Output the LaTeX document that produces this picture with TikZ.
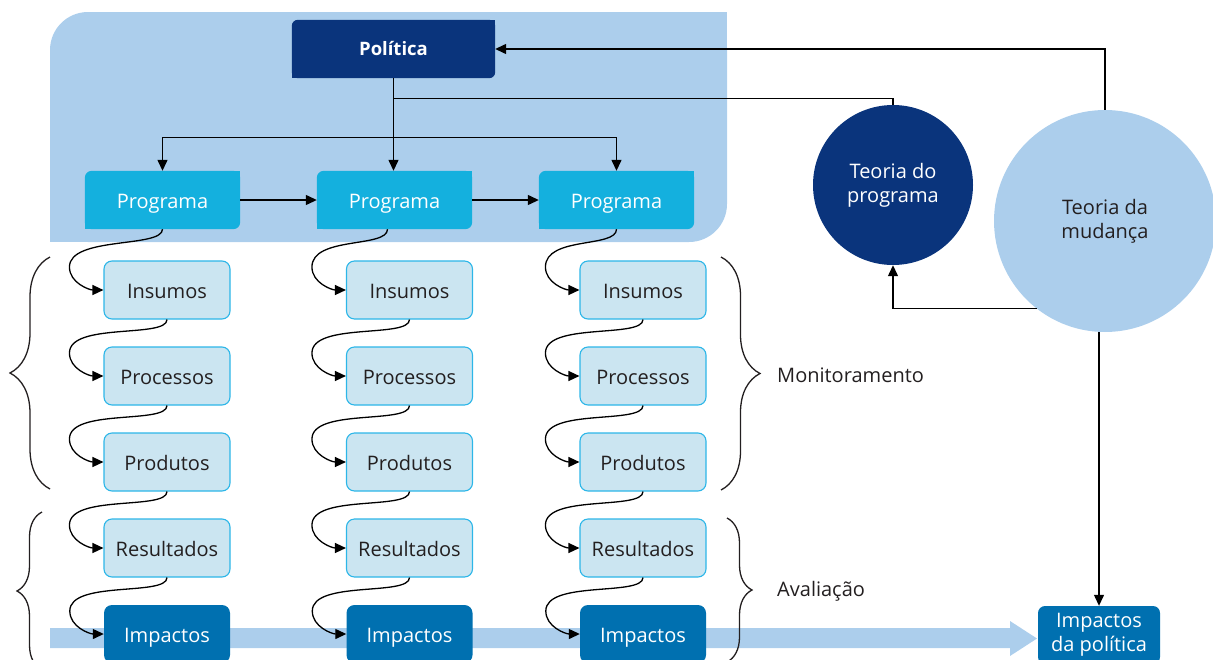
\documentclass[tikz,border=0pt]{standalone}
\usepackage{fontspec}
\setmainfont{Open Sans}
\usetikzlibrary{arrows.meta,calc,decorations.pathreplacing}
\definecolor{bgblue}{HTML}{ACCEEC}
\definecolor{navy}{HTML}{0A347C}
\definecolor{progcyan}{HTML}{14B0DE}
\definecolor{lightbox}{HTML}{CBE5F1}
\definecolor{lightborder}{HTML}{2CB6E8}
\definecolor{impblue}{HTML}{0070B0}
\definecolor{textdark}{HTML}{231F20}
\pgfdeclarelayer{bgA}
\pgfdeclarelayer{bgB}
\pgfsetlayers{bgA,bgB,main}
% fill a node area with rounded top-left and bottom-right corners
\newcommand\twocornerfill[3]{%
  \fill[#1,rounded corners=#3pt] (#2.north west) rectangle (#2.south east);
  \fill[#1] (#2.north east) rectangle ($(#2.north east)+(-#3,#3)$);
  \fill[#1] (#2.south west) rectangle ($(#2.south west)+(#3,-#3)$);
}
\newcommand\curvarrow[2]{%
  \draw[conn] (#1) .. controls +(0,19) and +(0,-31) .. ($(#2.west)+(-34,-23)$)
    .. controls +(0,16) and +(-14,0) .. (#2.west);
}
\tikzset{
  every node/.style={font=\fontsize{20}{24}\selectfont},
  conn/.style={draw=black, line width=1.3pt, -{Triangle[length=11pt,width=10pt]}},
  plainline/.style={draw=black, line width=1.3pt},
  onetext/.style={text height=16pt, text depth=0pt},
  polbox/.style={minimum width=203pt, minimum height=58pt, inner sep=0pt, text=white,
     font=\fontsize{18.5}{24}\selectfont\bfseries, text height=12pt, text depth=0pt},
  progbox/.style={minimum width=155pt, minimum height=58pt, inner sep=0pt, text=white, onetext},
  stagebox/.style={minimum width=126pt, minimum height=58pt, inner sep=0pt, rounded corners=8pt,
     fill=lightbox, draw=lightborder, line width=1.1pt, text=textdark, onetext},
  impbox/.style={minimum width=126pt, minimum height=58pt, inner sep=0pt, rounded corners=8pt,
     fill=impblue, text=white, onetext},
  bracestyle/.style={draw=textdark, line width=1.3pt, decorate},
  labeltext/.style={anchor=base west, text=textdark, inner sep=0pt},
}
\begin{document}
\begin{tikzpicture}[x=1pt,y=-1pt]
\useasboundingbox (0,0) rectangle (1213,659);

% background region and big arrow
\begin{pgfonlayer}{bgA}
  \fill[bgblue, rounded corners=38pt] (50,12) rectangle (727,242);
  \fill[bgblue] (727,12) rectangle (689,50);
  \fill[bgblue] (50,242) rectangle (88,204);
  \fill[bgblue] (50,628) -- (1010,628) -- (1010,621) -- (1037,638.5) -- (1010,656) -- (1010,648) -- (50,648) -- cycle;
\end{pgfonlayer}

% policy and programs
\node[polbox] (pol) at (393.5,49) {Política};
\node[progbox] (p1) at (162.5,200) {Programa};
\node[progbox] (p2) at (394.5,200) {Programa};
\node[progbox] (p3) at (616.5,200) {Programa};
\begin{pgfonlayer}{bgB}
  \twocornerfill{navy}{pol}{6}
  \twocornerfill{progcyan}{p1}{7}
  \twocornerfill{progcyan}{p2}{7}
  \twocornerfill{progcyan}{p3}{7}
\end{pgfonlayer}

% stage boxes
\foreach \c/\x in {1/167,2/409.5,3/643}{
  \node[stagebox] (a\c) at (\x,290) {Insumos};
  \node[stagebox] (b\c) at (\x,376) {Processos};
  \node[stagebox] (c\c) at (\x,462) {Produtos};
  \node[stagebox] (d\c) at (\x,548) {Resultados};
  \node[impbox]   (e\c) at (\x,634) {Impactos};
}

% theory circles and policy impact box
\node[circle, fill=navy, text=white, minimum size=160pt, inner sep=0pt, align=center] (tp) at (893,185) {Teoria do\\programa};
\node[circle, fill=bgblue, text=textdark, minimum size=222pt, inner sep=0pt, align=center] (tm) at (1105,221) {Teoria da\\mudança};
\node[minimum width=122pt, minimum height=58pt, inner sep=0pt, rounded corners=7pt, fill=impblue, text=white, align=center] (ip) at (1099,635) {Impactos\\da política};

% labels
\node[labeltext] (mon) at (777,382) {Monitoramento};
\node[labeltext] (ava) at (777,596) {Avaliação};

% connectors at top
\coordinate (j1) at ($(pol.south)+(0,20)$);
\coordinate (j2) at ($(pol.south)+(0,59)$);
\draw[conn] (pol.south) -- (pol.south |- p2.north);
\draw[conn] (j2) -| (p1.north);
\draw[conn] (j2) -| (p3.north);
\draw[plainline] (j1) -| (tp.north);
\draw[conn] (p1.east) -- (p2.west);
\draw[conn] (p2.east) -- (p3.west);
\draw[conn] (tm.north) |- (pol.east);
\draw[conn] (tm.232.5) -| (tp.south);
\draw[conn] (tm.south -| ip.north) -- (ip.north);

% curved connectors down each column
\curvarrow{p1.south}{a1}
\curvarrow{$(p2.south)+(-7,0)$}{a2}
\curvarrow{p3.south}{a3}
\foreach \c in {1,2,3}{
  \curvarrow{a\c.south}{b\c}
  \curvarrow{b\c.south}{c\c}
  \curvarrow{c\c.south}{d\c}
  \curvarrow{d\c.south}{e\c}
}

% braces
\draw[bracestyle, decoration={brace, amplitude=40pt}] (50,489) -- (50,257);
\draw[bracestyle, decoration={brace, amplitude=25pt}] (42,670) -- (42,512);
\draw[bracestyle, decoration={brace, amplitude=39pt}] (721,257) -- (721,490);
\draw[bracestyle, decoration={brace, amplitude=25pt}] (727,518) -- (727,662);
\end{tikzpicture}
\end{document}
